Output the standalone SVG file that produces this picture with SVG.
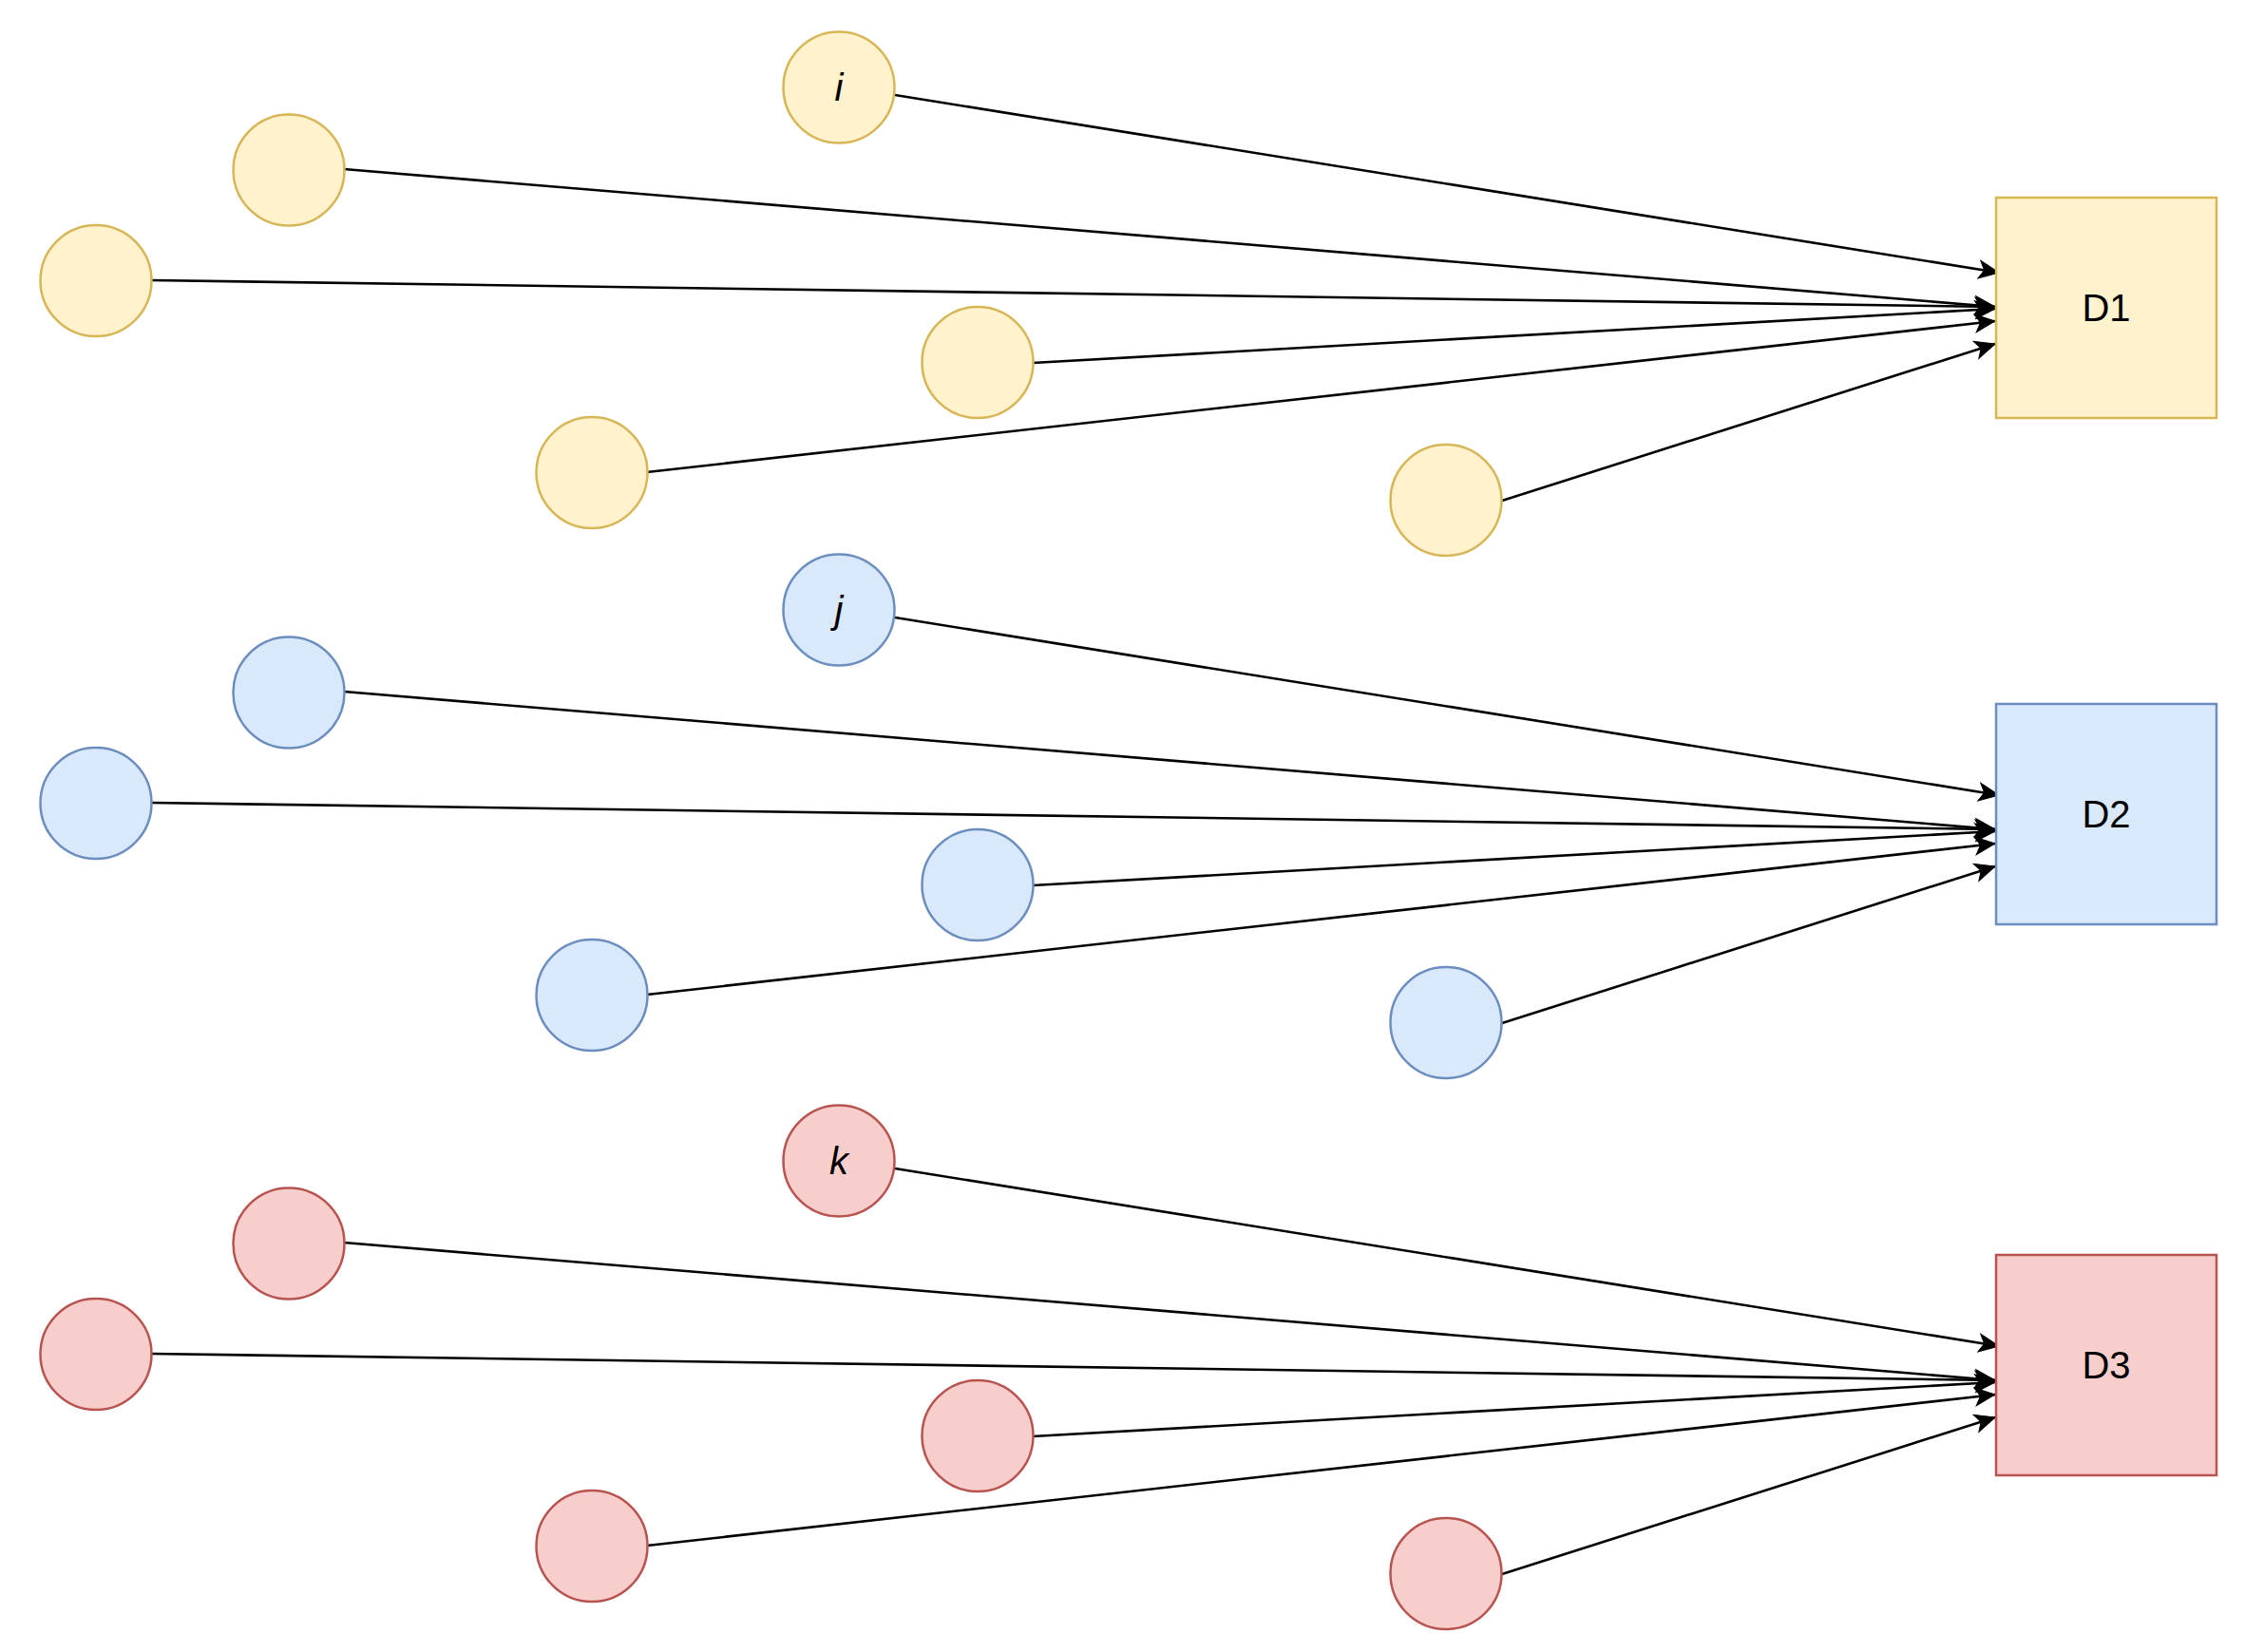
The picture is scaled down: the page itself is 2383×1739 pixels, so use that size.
<svg xmlns="http://www.w3.org/2000/svg" width="2383" height="1739" viewBox="0 0 2383 1739">
<style>
.y{fill:#fff2cc;stroke:#d6b656;stroke-width:2.5}
.b{fill:#dae8fc;stroke:#6c8ebf;stroke-width:2.5}
.r{fill:#f8cecc;stroke:#b85450;stroke-width:2.5}
.lbl{font-family:"Liberation Sans",Arial,sans-serif;font-size:40px;fill:#000;text-anchor:middle}
.it{font-style:italic}
.e{stroke:#000;stroke-width:2.6;fill:none;marker-end:url(#arr)}
</style>
<defs>
<marker id="arr" markerUnits="userSpaceOnUse" viewBox="-22 -11 24 22" refX="0" refY="0" markerWidth="24" markerHeight="22" orient="auto">
<path d="M0,0 L-21,-9.5 L-15.5,0 L-21,9.5 Z" fill="#000" stroke="#000" stroke-width="1"/>
</marker>
</defs>
<rect width="2383" height="1739" fill="#fff"/>
<g id="connectors">
<line class="e" x1="942" y1="100" x2="2104" y2="287"/>
<line class="e" x1="362" y1="178" x2="2100" y2="323"/>
<line class="e" x1="159" y1="295" x2="2100" y2="323"/>
<line class="e" x1="1087" y1="382" x2="2100" y2="325"/>
<line class="e" x1="681" y1="497" x2="2100" y2="338"/>
<line class="e" x1="1581" y1="527" x2="2100" y2="362"/>
<line class="e" x1="942" y1="650" x2="2104" y2="837"/>
<line class="e" x1="362" y1="728" x2="2100" y2="873"/>
<line class="e" x1="159" y1="845" x2="2100" y2="873"/>
<line class="e" x1="1087" y1="932" x2="2100" y2="875"/>
<line class="e" x1="681" y1="1047" x2="2100" y2="888"/>
<line class="e" x1="1581" y1="1077" x2="2100" y2="912"/>
<line class="e" x1="942" y1="1230" x2="2104" y2="1417"/>
<line class="e" x1="362" y1="1308" x2="2100" y2="1453"/>
<line class="e" x1="159" y1="1425" x2="2100" y2="1453"/>
<line class="e" x1="1087" y1="1512" x2="2100" y2="1455"/>
<line class="e" x1="681" y1="1627" x2="2100" y2="1468"/>
<line class="e" x1="1581" y1="1657" x2="2100" y2="1492"/>
</g>
<g id="n-i"><circle class="y" cx="883" cy="92" r="58.5"/><text class="lbl it" x="883" y="106">i</text></g>
<g id="n-y2"><circle class="y" cx="304" cy="179" r="58.5"/></g>
<g id="n-y3"><circle class="y" cx="101" cy="295.5" r="58.5"/></g>
<g id="n-y4"><circle class="y" cx="1029" cy="381.5" r="58.5"/></g>
<g id="n-y5"><circle class="y" cx="623" cy="497.5" r="58.5"/></g>
<g id="n-y6"><circle class="y" cx="1522" cy="526.5" r="58.5"/></g>
<g id="n-D1"><rect class="y" x="2101" y="208" width="232" height="232"/><text class="lbl" x="2217" y="338">D1</text></g>
<g id="n-j"><circle class="b" cx="883" cy="642" r="58.5"/><text class="lbl it" x="883" y="656">j</text></g>
<g id="n-b2"><circle class="b" cx="304" cy="729" r="58.5"/></g>
<g id="n-b3"><circle class="b" cx="101" cy="845.5" r="58.5"/></g>
<g id="n-b4"><circle class="b" cx="1029" cy="931.5" r="58.5"/></g>
<g id="n-b5"><circle class="b" cx="623" cy="1047.5" r="58.5"/></g>
<g id="n-b6"><circle class="b" cx="1522" cy="1076.5" r="58.5"/></g>
<g id="n-D2"><rect class="b" x="2101" y="741" width="232" height="232"/><text class="lbl" x="2217" y="871">D2</text></g>
<g id="n-k"><circle class="r" cx="883" cy="1222" r="58.5"/><text class="lbl it" x="883" y="1236">k</text></g>
<g id="n-r2"><circle class="r" cx="304" cy="1309" r="58.5"/></g>
<g id="n-r3"><circle class="r" cx="101" cy="1425.5" r="58.5"/></g>
<g id="n-r4"><circle class="r" cx="1029" cy="1511.5" r="58.5"/></g>
<g id="n-r5"><circle class="r" cx="623" cy="1627.5" r="58.5"/></g>
<g id="n-r6"><circle class="r" cx="1522" cy="1656.5" r="58.5"/></g>
<g id="n-D3"><rect class="r" x="2101" y="1321" width="232" height="232"/><text class="lbl" x="2217" y="1451">D3</text></g>
</svg>
